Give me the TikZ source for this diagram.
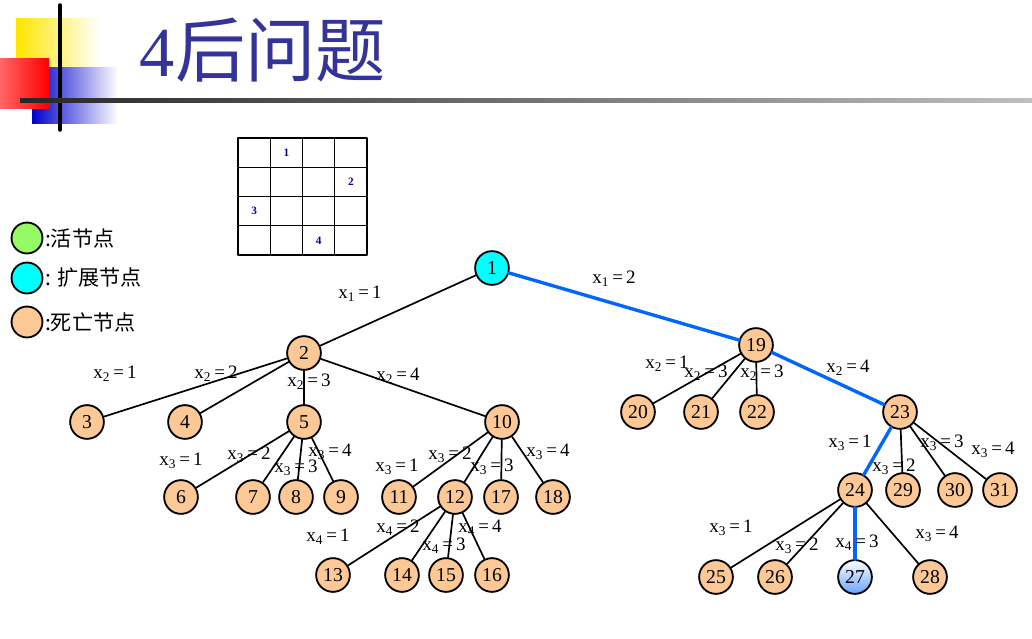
\documentclass[tikz,border=0pt]{standalone}
\usepackage{fontspec}
\setmainfont{Liberation Serif}
\newfontfamily\cjk{Noto Sans CJK SC}
\usetikzlibrary{shadings}
\definecolor{dead}{RGB}{252,200,150}
\definecolor{live}{RGB}{150,250,100}
\definecolor{expand}{RGB}{0,255,255}
\definecolor{titleblue}{RGB}{51,51,153}
\definecolor{path}{RGB}{0,102,255}
\tikzset{
  st/.style={circle, draw, line width=1.3pt, fill=dead, minimum size=24pt, inner sep=0pt, font=\fontsize{14}{14}\selectfont},
  edge/.style={line width=1.2pt},
  hot/.style={line width=2.4pt, draw=path},
  lab/.style={font=\fontsize{13.5}{13.5}\selectfont, inner sep=0pt}
}
\newcommand{\xv}[2]{x\textsubscript{#1}\,=\,#2}
\begin{document}
\begin{tikzpicture}[x=0.025cm, y=-0.025cm, line cap=round, line join=round]
                \useasboundingbox (0,0) rectangle (1032,638);

                % corner ornament and title
                \fill[left color=yellow!80!orange, right color=white] (16,18) rectangle (100,67);
                \fill[left color=blue!80!black, right color=white] (32,67) rectangle (118,123);
                \fill[left color=red!60, right color=red] (0,58) rectangle (49,108);
                \draw[line width=2.5pt] (60,5) -- (60,130);
                \shade[left color=black!85, right color=black!25] (20,98) rectangle (1032,102);
                \node[anchor=west, text=titleblue, font=\fontsize{50}{50}\selectfont] at (135,50) {4{\cjk 后问题}};

                % board
                \foreach \i in {1,...,3} {
                  \draw[line width=0.8pt] (238,138+29.25*\i) -- (367,138+29.25*\i);
                  \draw[line width=0.8pt] (238+32.25*\i,138) -- (238+32.25*\i,255);
                }
                \draw[line width=2pt] (238,138) rectangle (367,255);
                \foreach \c/\r/\q in {2/1/1, 4/2/2, 1/3/3, 3/4/4}
                  \node[text=blue!70!black, font=\bfseries\footnotesize] at (238+32.25*\c-16,138+29.25*\r-14.6) {\q};

                % legend
                \node[st, fill=live, minimum size=22pt] (lg1) at (27,238) {};
                \node[st, fill=expand, minimum size=22pt] (lg2) at (27,278) {};
                \node[st, minimum size=22pt] (lg3) at (27,322) {};
                \node[anchor=west, inner sep=1pt, font=\cjk\fontsize{15}{15}\selectfont] at (lg1.east) {:活节点};
                \node[anchor=west, inner sep=1pt, font=\cjk\fontsize{15}{15}\selectfont] at (lg2.east) {: 扩展节点};
                \node[anchor=west, inner sep=1pt, font=\cjk\fontsize{15}{15}\selectfont] at (lg3.east) {:死亡节点};

                % tree nodes
                \node[st, fill=expand] (n1) at (492,268) {1};
                \foreach \n/\x/\y in {2/304/353, 19/756/345, 3/87/422, 4/185/422, 5/304/422, 10/502/422,
                    6/181/497, 7/253/497, 8/296/497, 9/341/497, 11/399/497, 12/455/497, 17/501/497, 18/553/497,
                    13/333/575, 14/402/575, 15/446/575, 16/492/575, 20/638/412, 21/701/412, 22/757/412, 23/900/412,
                    24/855/490, 29/903/490, 30/955/490, 31/1000/490, 25/716/577, 26/775/577, 28/930/577}
                  \node[st] (n\n) at (\x,\y) {\n};
                \node[st, top color=white, bottom color=path!60] (n27) at (855,577) {27};

                % edges
                \foreach \a/\b in {1/2, 2/3, 2/4, 2/5, 2/10, 5/6, 5/7, 5/8, 5/9, 10/11, 10/12, 10/17, 10/18,
                    12/13, 12/14, 12/15, 12/16, 19/20, 19/21, 19/22, 23/29, 23/30, 23/31, 24/25, 24/26, 24/28}
                  \draw[edge] (n\a) -- (n\b);
                \draw[hot] (n1) -- (n19);
                \draw[hot] (n19) -- (n23);
                \draw[hot] (n23) -- (n24);
                \draw[hot] (n24) -- (n27);

                % labels
                \foreach \x/\y/\i/\v in {360/294/1/1, 614/279/1/2,
                    115/374/2/1, 216/374/2/2, 309/382/2/3, 398/376/2/4,
                    667/364/2/1, 706/373/2/3, 762/373/2/3, 848/368/2/4,
                    181/461/3/1, 249/455/3/2, 296/468/3/3, 330/452/3/4,
                    397/467/3/1, 450/455/3/2, 492/467/3/3, 548/452/3/4,
                    328/537/4/1, 398/528/4/2, 444/546/4/3, 480/528/4/4,
                    850/443/3/1, 894/467/3/2, 942/443/3/3, 993/450/3/4,
                    731/528/3/1, 797/546/3/2, 857/543/4/3, 937/534/3/4}
                  \node[lab] at (\x,\y) {\xv{\i}{\v}};
            \end{tikzpicture}
\end{document}
